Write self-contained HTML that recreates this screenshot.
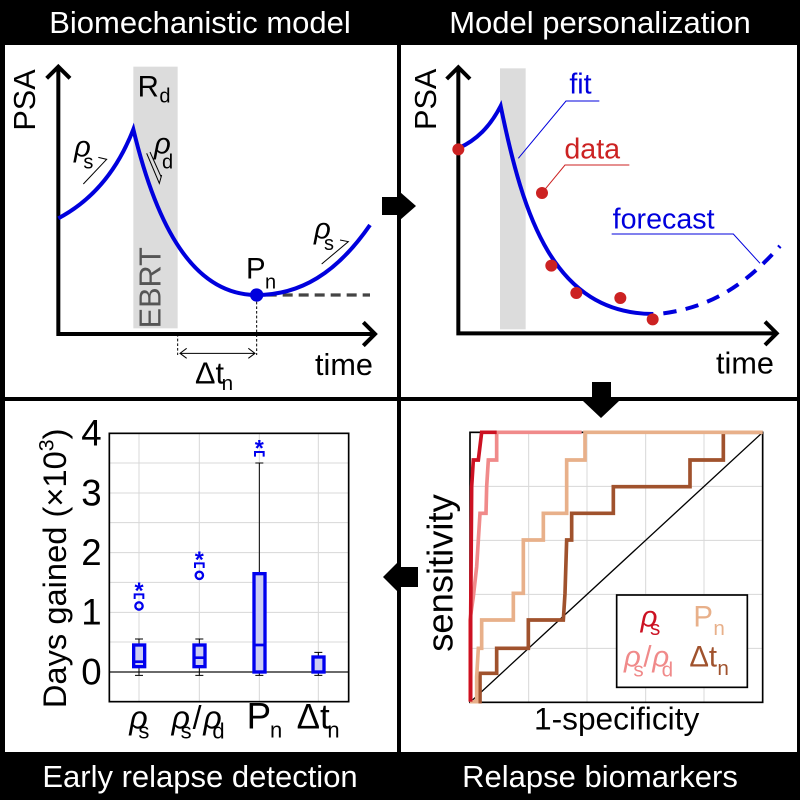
<!DOCTYPE html>
<html><head><meta charset="utf-8"><style>
html,body{margin:0;padding:0;background:#000;}
svg{display:block;font-family:"Liberation Sans",sans-serif;}
.g{font-style:italic;font-family:"Liberation Sans",sans-serif;}
</style></head><body>
<svg width="800" height="800" viewBox="0 0 800 800" xmlns="http://www.w3.org/2000/svg">
<rect x="0" y="0" width="800" height="800" fill="#000"/>
<rect x="5" y="45" width="392" height="352" fill="#fff"/>
<rect x="401" y="45" width="396" height="352" fill="#fff"/>
<rect x="5" y="401" width="392" height="351" fill="#fff"/>
<rect x="401" y="401" width="396" height="351" fill="#fff"/>
<g fill="#fff" font-size="31" text-anchor="middle">
<text x="200" y="33">Biomechanistic model</text>
<text x="600" y="33">Model personalization</text>
<text x="200" y="787">Early relapse detection</text>
<text x="600" y="787">Relapse biomarkers</text>
</g>
<!-- arrows -->
<polygon points="382,197 400,197 400,192 416,206 400,220 400,215 382,215" fill="#000"/>
<polygon points="592,382 611,382 611,401 619,401 601,418 583,401 592,401" fill="#000"/>
<polygon points="418,567 400,567 400,560 383,577 400,594 400,587 418,587" fill="#000"/>

<!-- Panel 1 -->
<g transform="translate(0,40) scale(0.3333333)">
<rect x="400" y="80" width="133" height="785" fill="#dcdcdc"/>
<path d="M175,80 L175,882 L1125,882" fill="none" stroke="#000" stroke-width="12"/>
<path d="M140,115 L175,80 L210,115 M1090,847 L1125,882 L1090,917" fill="none" stroke="#000" stroke-width="12"/>
<path d="M800,765 L1110,765" stroke="#444" stroke-width="10" stroke-dasharray="30,18"/>
<path d="M175,535 C260,490 345,410 400,268 C470,560 580,765 770,765 C900,765 1010,700 1110,555" fill="none" stroke="#0000dd" stroke-width="12"/>
<circle cx="770" cy="765" r="20" fill="#0000dd"/>
<path d="M770,785 L770,945 M533,882 L533,945" stroke="#000" stroke-width="3" stroke-dasharray="8,6"/>
<path d="M540,940 L765,940 M560,925 L540,940 L560,955 M745,925 L765,940 L745,955" fill="none" stroke="#000" stroke-width="3"/>
<text x="0" y="0" font-size="92" transform="translate(105,272) rotate(-90)">PSA</text>
<text x="0" y="0" font-size="92" fill="#555" transform="translate(482,865) rotate(-90)">EBRT</text>
<text x="413" y="170" font-size="88">R</text><text x="478" y="188" font-size="60">d</text>
<text x="222" y="350" font-size="88" class="g">ρ</text><text x="250" y="385" font-size="60">s</text>
<path d="M250,432 L320,358 L295,352" fill="none" stroke="#000" stroke-width="3"/>
<text x="462" y="340" font-size="88" class="g">ρ</text><text x="486" y="385" font-size="60">d</text>
<path d="M440,340 L478,430 L485,405 M450,336 L484,412" fill="none" stroke="#000" stroke-width="3"/>
<text x="738" y="715" font-size="88">P</text><text x="795" y="745" font-size="60">n</text>
<text x="942" y="595" font-size="88" class="g">ρ</text><text x="972" y="630" font-size="60">s</text>
<path d="M965,672 L1045,605 L1020,600" fill="none" stroke="#000" stroke-width="3"/>
<text x="585" y="1030" font-size="92">Δt</text><text x="665" y="1050" font-size="62">n</text>
<text x="945" y="1005" font-size="92">time</text>
</g>

<!-- Panel 2 -->
<g transform="translate(380,30) scale(0.3333333)">
<rect x="360" y="115" width="77" height="783" fill="#dcdcdc"/>
<path d="M235,112 L235,910 L1190,910" fill="none" stroke="#000" stroke-width="12"/>
<path d="M200,147 L235,112 L270,147 M1155,875 L1190,910 L1155,945" fill="none" stroke="#000" stroke-width="12"/>
<path d="M235,355 C290,330 330,290 362,228 C430,560 520,850 820,852" fill="none" stroke="#0000dd" stroke-width="12"/>
<path d="M850,850 C1000,830 1100,760 1200,648" fill="none" stroke="#0000dd" stroke-width="12" stroke-dasharray="40,28"/>
<g fill="#cc2222">
<circle cx="235" cy="358" r="18"/><circle cx="486" cy="489" r="18"/><circle cx="514" cy="707" r="18"/>
<circle cx="589" cy="789" r="18"/><circle cx="721" cy="804" r="18"/><circle cx="818" cy="868" r="18"/>
</g>
<text x="0" y="0" font-size="92" transform="translate(168,300) rotate(-90)">PSA</text>
<text x="568" y="190" font-size="86" fill="#0000dd">fit</text>
<path d="M658,213 L558,213 L415,385" fill="none" stroke="#0000dd" stroke-width="3"/>
<text x="553" y="385" font-size="86" fill="#cc2222">data</text>
<path d="M748,405 L555,405 L495,478" fill="none" stroke="#cc2222" stroke-width="3"/>
<text x="698" y="595" font-size="86" fill="#0000dd">forecast</text>
<path d="M695,612 L1060,612 L1140,700" fill="none" stroke="#0000dd" stroke-width="3"/>
<text x="1008" y="1030" font-size="92">time</text>
</g>

<!-- Panel 3 -->
<g transform="translate(0,400) scale(0.3333333)">
<g stroke="#d8d8d8" stroke-width="3">
<path d="M417,100 V905 M598,100 V905 M778,100 V905 M955,100 V905"/>
<path d="M328,189 H1046 M328,279 H1046 M328,368 H1046 M328,458 H1046 M328,547 H1046 M328,637 H1046 M328,726 H1046"/>
</g>
<path d="M328,816 H1046" stroke="#555" stroke-width="5"/>
<rect x="328" y="100" width="718" height="805" fill="none" stroke="#000" stroke-width="5"/>
<g stroke="#000" stroke-width="3">
<path d="M417,717 V735 M405,717 H429 M417,800 V826 M405,826 H429"/>
<path d="M598,717 V735 M586,717 H610 M598,800 V826 M586,826 H610"/>
<path d="M778,189 V521 M766,189 H790 M778,816 V826 M766,826 H790"/>
<path d="M955,757 V771 M943,757 H967 M955,816 V826 M943,826 H967"/>
</g>
<g fill="#ccccf2" stroke="#0000ee" stroke-width="10">
<rect x="401" y="735" width="33" height="65"/>
<rect x="582" y="735" width="33" height="65"/>
<rect x="762" y="521" width="33" height="295"/>
<rect x="939" y="771" width="33" height="45"/>
</g>
<g stroke="#0000ee" stroke-width="8" fill="none">
<path d="M401,785 H434 M582,773 H615 M762,735 H795"/>
<circle cx="417" cy="618" r="11" stroke-width="7"/>
<circle cx="598" cy="526" r="11" stroke-width="7"/>
<path d="M404,597 V583 H430 V597 M585,504 V490 H611 V504 M765,170 V156 H791 V170" stroke-width="6"/>
</g>
<g fill="#0000ee" font-size="70" font-weight="bold" text-anchor="middle">
<text x="417" y="595">*</text><text x="598" y="502">*</text><text x="778" y="168">*</text>
</g>
<g font-size="110" text-anchor="end">
<text x="305" y="137">4</text><text x="305" y="316">3</text><text x="305" y="495">2</text><text x="305" y="674">1</text><text x="305" y="853">0</text>
</g>
<text x="0" y="0" font-size="98" text-anchor="middle" transform="translate(198,505) rotate(-90)">Days gained (×10<tspan font-size="64" dy="-38">3</tspan><tspan dy="38">)</tspan></text>
<g font-size="96">
<text x="388" y="985" class="g">ρ</text><text x="415" y="1015" font-size="66">s</text>
<text x="515" y="985" class="g">ρ</text><text x="542" y="1015" font-size="66">s</text>
<text x="578" y="985">/</text>
<text x="610" y="985" class="g">ρ</text><text x="637" y="1015" font-size="66">d</text>
<text x="740" y="985" font-size="110">P</text><text x="810" y="1012" font-size="66">n</text>
<text x="890" y="985" font-size="105">Δt</text><text x="982" y="1012" font-size="66">n</text>
</g>
</g>

<!-- Panel 4 -->
<g transform="translate(400,400) scale(0.3333333)">
<g stroke="#d8d8d8" stroke-width="3">
<path d="M386,97 V907 M561,97 V907 M737,97 V907 M912,97 V907"/>
<path d="M210,259 H1088 M210,421 H1088 M210,583 H1088 M210,745 H1088"/>
</g>
<rect x="210" y="97" width="878" height="810" fill="none" stroke="#000" stroke-width="5"/>
<path d="M210,907 L1088,97" stroke="#000" stroke-width="4"/>
<g fill="none" stroke-width="11" stroke-linejoin="miter">
<path stroke="#a0522d" d="M215,905 H240 V820 H290 V745 H385 V660 H490 L495,580 L500,420 H515 V340 H640 V260 H870 V180 H970 V97 H1088"/>
<path stroke="#e8b08a" d="M210,905 H230 V830 L235,745 H245 V660 H340 V580 H370 V420 H430 V340 H500 V180 H555 V97 H1088"/>
<path stroke="#f08a8a" d="M210,905 V660 L220,590 L230,500 L235,420 L240,340 H258 L260,260 L265,180 H290 V97 H545"/>
<path stroke="#cc1122" d="M212,905 L212,660 L215,260 L220,180 H235 L245,97 H290"/>
</g>
<rect x="650" y="585" width="392" height="277" fill="#fff" stroke="#000" stroke-width="5"/>
<g font-size="88">
<text x="722" y="680" fill="#cc1122" class="g">ρ</text><text x="750" y="705" fill="#cc1122" font-size="62">s</text>
<text x="880" y="680" fill="#e8b08a">P</text><text x="940" y="705" fill="#e8b08a" font-size="62">n</text>
<text x="672" y="800" fill="#f08a8a" class="g">ρ</text><text x="700" y="830" fill="#f08a8a" font-size="62">s</text>
<text x="730" y="800" fill="#f08a8a">/</text>
<text x="757" y="800" fill="#f08a8a" class="g">ρ</text><text x="785" y="830" fill="#f08a8a" font-size="62">d</text>
<text x="868" y="800" fill="#a0522d">Δt</text><text x="952" y="825" fill="#a0522d" font-size="62">n</text>
</g>
<text x="650" y="988" font-size="95" text-anchor="middle">1-specificity</text>
<text x="0" y="0" font-size="109" text-anchor="middle" transform="translate(158,519) rotate(-90)">sensitivity</text>
</g>
</svg>
</body></html>
